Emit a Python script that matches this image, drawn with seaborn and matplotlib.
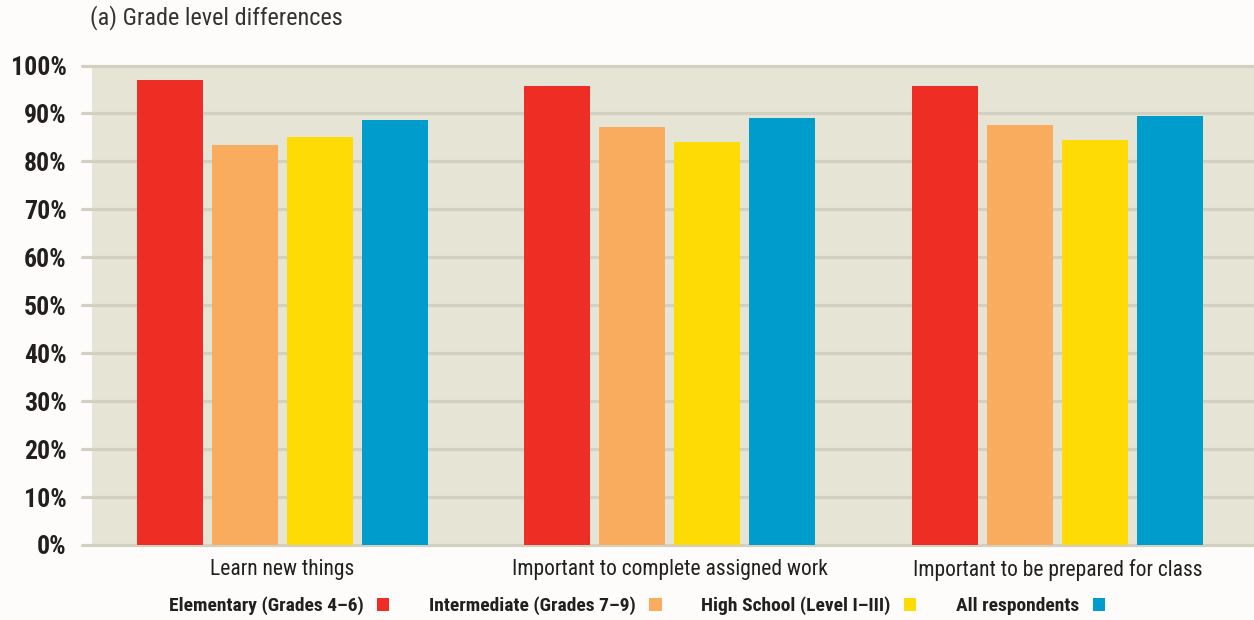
import matplotlib
matplotlib.use("Agg")
import matplotlib.pyplot as plt
from matplotlib import font_manager as fm
from matplotlib.patches import Rectangle
from matplotlib.ticker import PercentFormatter
import seaborn as sns
import pandas as pd

# Survey results by grade level (percent agreeing)
categories = ["Learn new things",
              "Important to complete assigned work",
              "Important to be prepared for class"]
groups = ["Elementary (Grades 4–6)",
          "Intermediate (Grades 7–9)",
          "High School (Level I–III)",
          "All respondents"]
elementary = [97.0, 95.7, 95.7]
intermediate = [83.4, 87.2, 87.6]
high_school = [85.0, 84.0, 84.5]
all_respondents = [88.6, 89.1, 89.5]
y_ticks = [0, 10, 20, 30, 40, 50, 60, 70, 80, 90, 100]

colors = ["#EE2E24", "#F9AC5E", "#FFDB05", "#009CCB"]

rows = []
for series, name in zip([elementary, intermediate, high_school, all_respondents], groups):
    for cat, val in zip(categories, series):
        rows.append({"category": cat, "group": name, "value": val})
df = pd.DataFrame(rows)


def pick_condensed_font():
    """Return (family, stretch) of a narrow sans face if one is installed."""
    entries = fm.fontManager.ttflist
    names = {f.name for f in entries}
    for pref in ["Roboto Condensed", "Liberation Sans Narrow",
                 "DejaVu Sans Condensed", "Open Sans Condensed",
                 "Noto Sans Condensed"]:
        if pref in names:
            return pref, "normal"
    for f in entries:
        low = f.name.lower()
        if "mono" in low or "serif" in low:
            continue
        if "condensed" in str(f.stretch) or "narrow" in low or "condensed" in low:
            return f.name, f.stretch
    return "Roboto", "normal"


family, stretch = pick_condensed_font()

sns.set_theme(style="white")
plt.rcParams["font.family"] = [family, "DejaVu Sans"]
plt.rcParams["font.stretch"] = stretch

fig_bg = "#FDFCFA"
panel_bg = "#E6E5D5"
grid_c = "#D2D0C0"
text_c = "#231F20"

W, H = 1254, 620
fig = plt.figure(figsize=(W / 100, H / 100), dpi=100, facecolor=fig_bg)
ax_left = 82 / W
ax = fig.add_axes([ax_left, (H - 545) / H, 1 - ax_left, (545 - 65.5) / H])
ax.set_facecolor("none")

# beige panel starts a little to the right of where the gridlines begin
ax.add_patch(Rectangle(((92 - 82) / (W - 82), 0), 1, 1, transform=ax.transAxes,
                       facecolor=panel_bg, edgecolor="none", zorder=0))
for t in y_ticks:
    ax.axhline(t, color=grid_c, lw=2.3, zorder=1, clip_on=False)

sns.barplot(data=df, x="category", y="value", hue="group", hue_order=groups,
            palette=colors, width=0.774, gap=0.12, saturation=1,
            edgecolor="none", linewidth=0, ax=ax, zorder=2, legend=True)

ax.set_ylim(0, 100)
ax.set_xlim(-0.517, 2.507)
ax.set_yticks(y_ticks)
ax.yaxis.set_major_formatter(PercentFormatter(decimals=0))
ax.set_xlabel("")
ax.set_ylabel("")
for s in ax.spines.values():
    s.set_visible(False)
ax.tick_params(axis="y", length=0, pad=11, labelsize=18.5, labelcolor=text_c)
ax.tick_params(axis="x", length=0, pad=10, labelsize=15.5, labelcolor=text_c)
for lab in ax.get_yticklabels():
    lab.set_fontweight("bold")

handles, labels = ax.get_legend_handles_labels()
ax.get_legend().remove()
leg = fig.legend(handles, labels, loc="center", ncol=4,
                 bbox_to_anchor=(637 / W, 1 - 606 / H), frameon=False,
                 markerfirst=False, handlelength=0.62, handleheight=0.62,
                 handletextpad=0.7, columnspacing=2.05,
                 prop={"size": 14, "weight": "bold"})
for t in leg.get_texts():
    t.set_color(text_c)

fig.text(90 / W, 1 - 18 / H, "(a) Grade level differences", fontsize=17.5,
         color="#333333", ha="left", va="center")

fig.savefig("out.png", dpi=100, facecolor=fig_bg)
